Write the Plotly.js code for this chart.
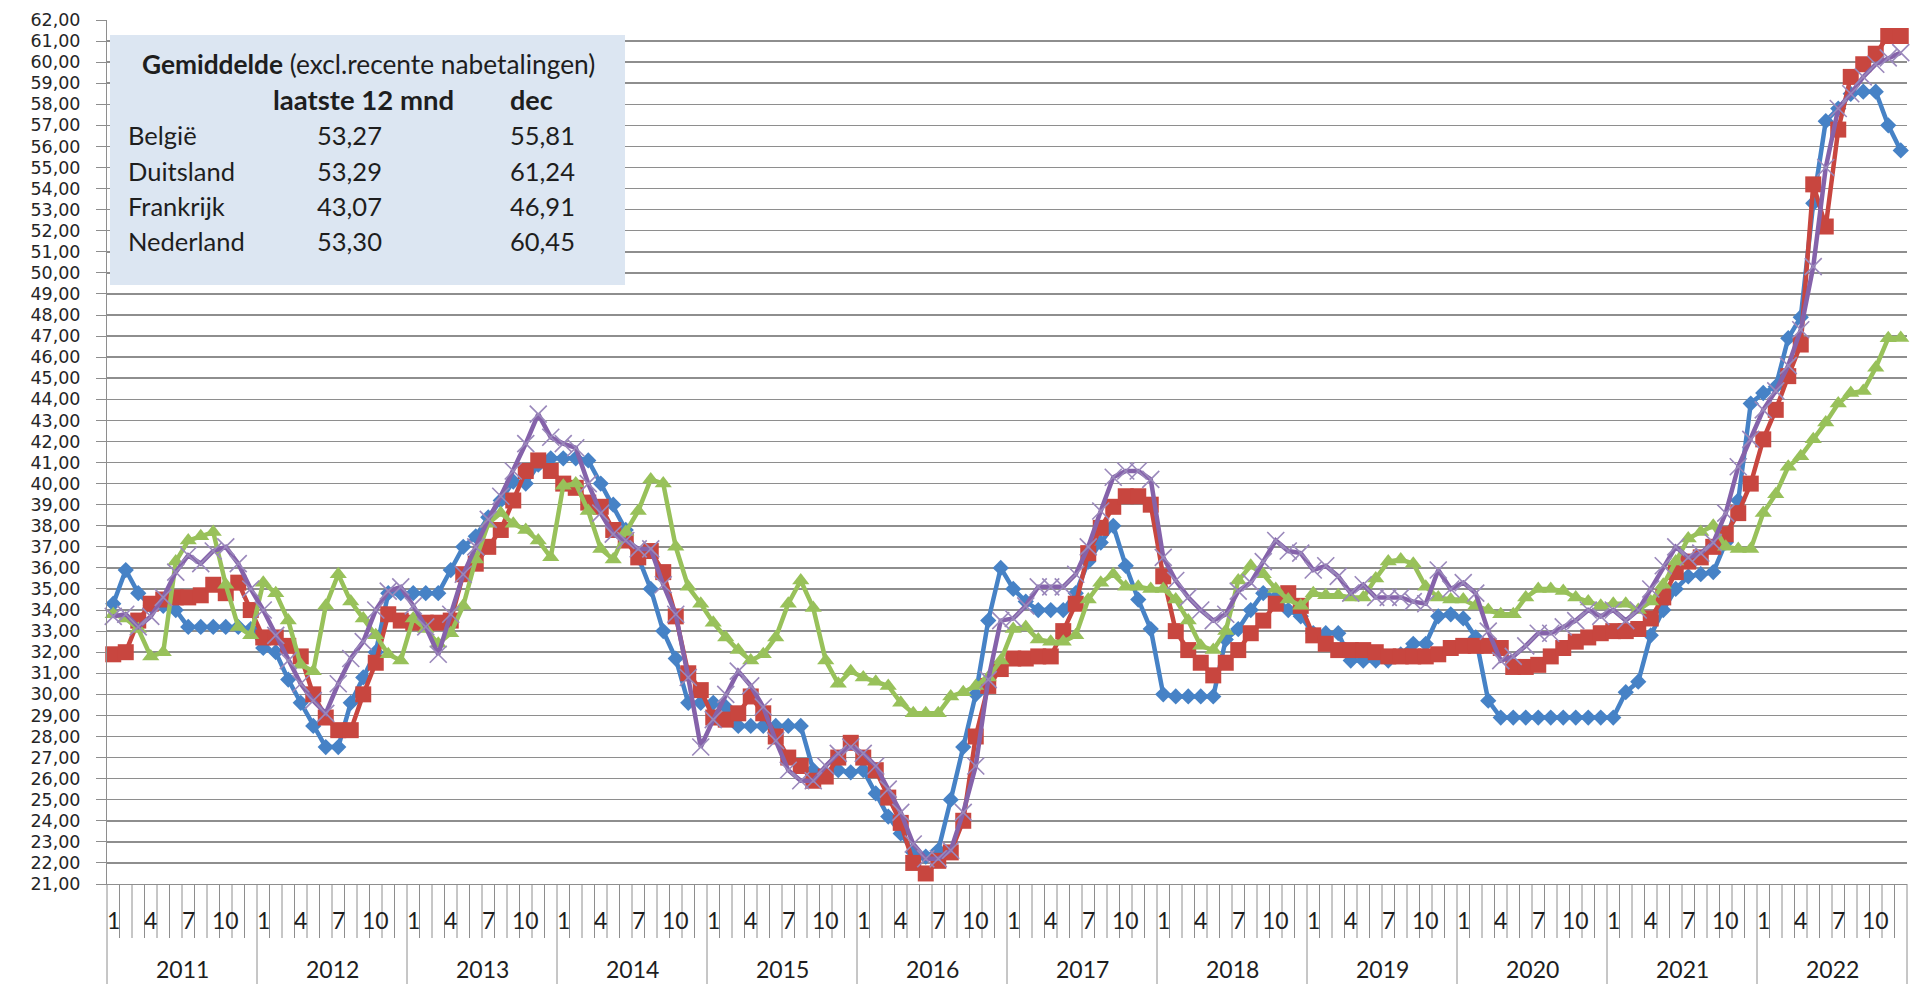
<!DOCTYPE html>
<html><head><meta charset="utf-8">
<script src="https://cdn.plot.ly/plotly-3.0.1.min.js"></script>
<style>html,body{margin:0;padding:0;background:#fff;}#chart{width:1929px;height:984px;}</style>
</head><body><div id="chart"></div>
<script>
// ---- data ----
const years = [2011,2012,2013,2014,2015,2016,2017,2018,2019,2020,2021,2022];
const monthLabels = ['1','','','4','','','7','','','10','',''];

const belgie = [
34.3,35.9,34.8,34.2,34.2,34.0,33.2,33.2,33.2,33.2,33.2,33.1,
32.2,32.0,30.7,29.6,28.5,27.5,27.5,29.6,30.8,32.0,34.8,34.8,
34.8,34.8,34.8,35.9,37.0,37.5,38.4,39.2,40.1,40.0,40.9,41.2,
41.2,41.2,41.1,40.0,39.0,37.8,36.5,35.0,33.0,31.7,29.6,29.6,
29.6,29.4,28.5,28.5,28.5,28.5,28.5,28.5,26.4,26.2,26.4,26.3,
26.4,25.3,24.2,23.4,22.5,22.3,22.6,25.0,27.5,30.0,33.5,36.0,
35.0,34.4,34.0,34.0,34.0,34.8,36.3,37.2,38.0,36.1,34.5,33.1,
30.0,29.9,29.9,29.9,29.9,32.6,33.1,34.0,34.8,34.6,34.0,33.7,
32.9,32.9,32.9,31.6,31.6,31.6,31.6,31.9,32.4,32.4,33.7,33.8,
33.6,32.7,29.7,28.9,28.9,28.9,28.9,28.9,28.9,28.9,28.9,28.9,
28.9,30.1,30.6,32.8,34.0,35.0,35.6,35.7,35.8,37.2,39.2,43.8,
44.3,44.6,46.9,47.9,53.3,57.2,57.8,58.5,58.6,58.6,57.0,55.81];

const duitsland = [
31.9,32.0,33.5,34.3,34.5,34.6,34.6,34.7,35.2,34.8,35.3,34.0,
32.7,32.7,32.3,31.8,30.0,28.9,28.3,28.3,30.0,31.5,33.8,33.5,
33.4,33.4,33.4,33.5,35.7,36.2,37.0,37.8,39.2,40.6,41.1,40.6,
40.0,39.8,39.1,38.9,37.8,37.3,36.5,36.8,35.8,33.7,31.0,30.2,
28.9,28.8,29.1,29.9,29.1,28.0,27.0,26.6,25.9,26.1,27.0,27.7,
27.0,26.4,25.1,23.9,22.0,21.5,22.1,22.5,24.0,28.0,30.4,31.2,
31.7,31.7,31.8,31.8,33.0,34.3,36.7,37.9,38.9,39.4,39.4,39.0,
35.6,33.0,32.1,31.5,30.9,31.5,32.1,32.9,33.5,34.3,34.8,34.2,
32.8,32.4,32.1,32.1,32.1,32.0,31.8,31.8,31.8,31.8,31.9,32.2,
32.3,32.3,32.3,32.2,31.3,31.3,31.4,31.8,32.2,32.5,32.7,32.9,
33.0,33.0,33.1,33.6,34.6,35.8,36.3,36.5,37.0,37.6,38.6,40.0,
42.1,43.5,45.1,46.6,54.2,52.2,56.8,59.3,59.9,60.4,61.24,61.24];

const frankrijk = [
33.8,33.6,33.1,31.8,32.0,36.3,37.3,37.5,37.7,35.2,33.2,32.8,
35.3,34.8,33.5,31.4,31.1,34.2,35.7,34.4,33.6,32.8,31.9,31.6,
33.6,33.1,32.4,32.9,34.2,36.4,38.1,38.6,38.1,37.8,37.3,36.5,
39.9,40.0,38.7,36.9,36.4,37.7,38.7,40.2,40.0,37.0,35.1,34.3,
33.4,32.7,32.1,31.6,31.9,32.7,34.3,35.4,34.1,31.6,30.5,31.1,
30.8,30.6,30.4,29.6,29.1,29.1,29.1,29.9,30.1,30.4,30.8,31.6,
33.1,33.2,32.6,32.5,32.5,32.8,34.5,35.3,35.7,35.1,35.1,35.0,
35.0,34.5,33.5,32.3,32.1,33.0,35.4,36.1,35.7,35.0,34.5,34.2,
34.8,34.7,34.7,34.6,34.6,35.5,36.3,36.4,36.2,35.1,34.6,34.5,
34.5,34.2,34.0,33.8,33.8,34.6,35.0,35.0,34.9,34.6,34.4,34.2,
34.3,34.3,34.0,34.4,35.2,36.3,37.4,37.7,38.0,37.0,36.9,36.9,
38.6,39.5,40.8,41.3,42.1,42.9,43.8,44.3,44.4,45.5,46.9,46.91];

const nederland = [
33.7,33.8,33.2,33.7,34.6,35.8,36.6,36.2,36.8,37.0,36.2,35.0,
34.0,32.8,31.6,30.5,29.7,29.1,30.5,31.7,32.5,34.0,34.9,35.1,
34.2,33.2,31.9,33.8,35.7,37.0,38.3,39.4,40.6,41.9,43.3,42.2,
41.9,41.7,40.0,38.6,37.6,37.3,36.9,36.9,35.2,33.8,30.8,27.5,
28.8,30.0,31.1,30.4,29.4,27.8,26.4,25.9,25.9,26.6,27.2,27.5,
27.2,26.6,25.5,24.4,22.9,22.2,22.2,22.6,24.4,26.6,30.7,33.5,
33.6,34.2,35.1,35.1,35.1,35.7,37.0,38.7,40.3,40.6,40.6,40.2,
36.5,35.4,34.6,34.0,33.5,33.8,34.9,35.3,36.3,37.3,36.8,36.7,
35.9,36.1,35.6,34.8,35.2,34.6,34.6,34.6,34.4,34.3,35.9,35.0,
35.3,34.8,33.0,31.6,31.8,32.3,32.9,32.9,33.2,33.5,34.0,33.7,
34.0,33.5,34.0,35.0,36.1,37.0,36.5,36.7,37.2,38.6,40.8,42.1,
43.5,44.4,45.6,47.3,50.3,55.0,57.8,58.5,59.3,59.9,60.2,60.45];

const boxTitle = 'Gemiddelde';
const boxSubtitle = '(excl.recente nabetalingen)';
const boxHeadAvg = 'laatste 12 mnd';
const boxHeadDec = 'dec';
const boxCountries = ['België','Duitsland','Frankrijk','Nederland'];
const boxAvg12 = [53.27, 53.29, 43.07, 53.30];
const boxDec = [55.81, 61.24, 46.91, 60.45];

// ---- geometry ----
const FW = 1929, FH = 984;
const M = {l:107, r:22, t:20, b:100};
const PW = FW - M.l - M.r, PH = FH - M.t - M.b;
const px = x => (x - M.l) / PW;
const py = y => (FH - M.b - y) / PH;
const FONT = 'Lato, "Open Sans", sans-serif';
const TXT = '#1e1e1e';
const GRID = '#8e8e8e';

const nMonths = years.length * 12;
const xs = Array.from({length: nMonths}, (_, i) => i);
const fmt = v => v.toFixed(2).replace('.', ',');

function series(name, y, color, symbol, msize, extra) {
  return Object.assign({
    type: 'scatter', mode: 'lines+markers', name, x: xs, y,
    line: {color, width: 4.5},
    marker: {symbol, size: msize, color, line: {width: 0}},
    hoverinfo: 'skip', cliponaxis: false
  }, extra || {});
}

const traces = [
  series('België', belgie, '#4682c6', 'diamond', 12.5),
  series('Duitsland', duitsland, '#c8463f', 'square', 16),
  series('Frankrijk', frankrijk, '#98c15a', 'triangle-up', 15),
  series('Nederland', nederland, '#8562aa', 'x-thin-open', 17,
    {marker: {symbol: 'x-thin-open', size: 17, color: '#9a88bb', line: {width: 1.6, color: '#9a88bb'}}})
];

const shapes = [];
// month separators
for (let k = 0; k <= nMonths; k++) {
  if (k % 12 === 0) continue;
  shapes.push({type: 'line', xref: 'paper', yref: 'paper', x0: k / nMonths, x1: k / nMonths,
    y0: 0, y1: -54 / PH, line: {color: GRID, width: 1}});
}
// year separators
for (let j = 0; j <= years.length; j++) {
  shapes.push({type: 'line', xref: 'paper', yref: 'paper', x0: j / years.length, x1: j / years.length,
    y0: 0, y1: -M.b / PH, line: {color: GRID, width: 1}});
}
// info box
shapes.push({type: 'rect', xref: 'paper', yref: 'paper', x0: px(110), x1: px(625), y0: py(285), y1: py(35),
  fillcolor: '#dce6f2', line: {width: 0}, layer: 'above'});

const annotations = [];
for (let i = 0; i < nMonths; i++) {
  const t = monthLabels[i % 12];
  if (!t) continue;
  annotations.push({xref: 'x', yref: 'paper', x: i, y: -36 / PH, text: t, showarrow: false,
    xanchor: 'center', yanchor: 'middle', font: {family: FONT, size: 23, color: TXT}});
}
years.forEach((yr, j) => {
  annotations.push({xref: 'x', yref: 'paper', x: j * 12 + 5.5, y: -85 / PH, text: String(yr), showarrow: false,
    xanchor: 'center', yanchor: 'middle', font: {family: FONT, size: 23, color: TXT}});
});
function boxText(text, x, y, size) {
  annotations.push({xref: 'paper', yref: 'paper', x: px(x), y: py(y), text, showarrow: false,
    xanchor: 'left', yanchor: 'middle', font: {family: FONT, size: size, color: TXT}});
}
boxText('<b>' + boxTitle + '</b> ' + boxSubtitle, 140, 64, 26.3);
boxText('<b>' + boxHeadAvg + '</b>', 271, 100, 27.5);
boxText('<b>' + boxHeadDec + '</b>', 508, 100, 27);
const rowY = [135, 171, 206, 241];
boxCountries.forEach((c, r) => {
  boxText(c, 126, rowY[r], 25.5);
  boxText(fmt(boxAvg12[r]), 315, rowY[r], 25.5);
  boxText(fmt(boxDec[r]), 508, rowY[r], 25.5);
});

const layout = {
  width: FW, height: FH,
  margin: M,
  paper_bgcolor: '#ffffff', plot_bgcolor: '#ffffff',
  separators: ',.',
  showlegend: false,
  font: {family: FONT, color: TXT},
  xaxis: {range: [-0.5, nMonths - 0.5], showgrid: false, zeroline: false, showticklabels: false,
    ticks: '', showline: true, linecolor: GRID, linewidth: 1, fixedrange: true},
  yaxis: {range: [21, 62], tickmode: 'linear', tick0: 21, dtick: 1, tickformat: '.2f',
    showgrid: true, gridcolor: GRID, gridwidth: 1.5, zeroline: false,
    showline: true, linecolor: GRID, linewidth: 1, ticks: 'outside', ticklen: 10, tickcolor: GRID,
    ticklabelstandoff: 12,
    tickfont: {family: '"DejaVu Sans", sans-serif', size: 17.5, color: '#262626'}, fixedrange: true},
  shapes, annotations
};

Plotly.newPlot('chart', traces, layout, {displayModeBar: false, staticPlot: true});
</script>
</body></html>
